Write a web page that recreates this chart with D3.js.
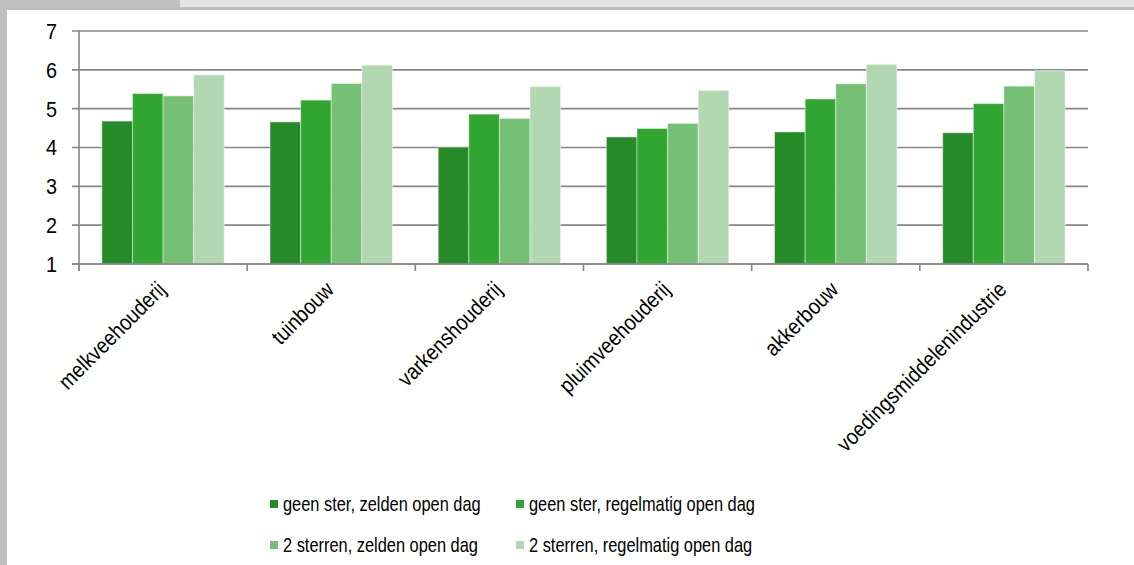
<!DOCTYPE html>
<html>
<head>
<meta charset="utf-8">
<script src="https://cdn.jsdelivr.net/npm/d3@7"></script>
<style>
  html, body { margin: 0; padding: 0; background: #fff; }
  svg { display: block; font-family: "Liberation Sans", Arial, sans-serif; }
</style>
</head>
<body>
<svg id="chart" width="1134" height="565"></svg>
<script>
// Sectors along the x axis
const sectors = ["melkveehouderij", "tuinbouw", "varkenshouderij", "pluimveehouderij", "akkerbouw", "voedingsmiddelenindustrie"];

// Series names (legend order)
const seriesNames = [
  "geen ster, zelden open dag",
  "geen ster, regelmatig open dag",
  "2 sterren, zelden open dag",
  "2 sterren, regelmatig open dag"
];

// Scores per series, one value per sector
const geenSterZelden     = [4.68, 4.66, 4.01, 4.27, 4.40, 4.38];
const geenSterRegelmatig = [5.39, 5.22, 4.86, 4.49, 5.25, 5.13];
const tweeSterrenZelden  = [5.33, 5.65, 4.75, 4.62, 5.64, 5.58];
const tweeSterrenRegelm  = [5.87, 6.12, 5.57, 5.47, 6.14, 5.98];

const seriesValues = [geenSterZelden, geenSterRegelmatig, tweeSterrenZelden, tweeSterrenRegelm];
const colors = ["#268a28", "#31a532", "#76c076", "#b1d8b1"];

// Y axis ticks
const yTicks = [1, 2, 3, 4, 5, 6, 7];

const svg = d3.select("#chart");

// Frame: grey top strip and left edge
svg.append("rect").attr("x", 0).attr("y", 0).attr("width", 1134).attr("height", 10).attr("fill", "#bfbfbf");
svg.append("rect").attr("x", 180).attr("y", 0).attr("width", 954).attr("height", 7).attr("fill", "#e5e5e5");
svg.append("rect").attr("x", 0).attr("y", 0).attr("width", 7).attr("height", 565).attr("fill", "#bfbfbf");

const plotLeft = 79, plotRight = 1088, plotTop = 31, plotBottom = 264;

const x0 = d3.scaleBand().domain(sectors).range([plotLeft, plotRight]).paddingInner(0).paddingOuter(0);
const groupPad = 0.136;
const x1 = d3.scaleBand().domain(d3.range(seriesNames.length))
  .range([x0.bandwidth() * groupPad, x0.bandwidth() * (1 - groupPad)]);
const y = d3.scaleLinear().domain([1, 7]).range([plotBottom, plotTop]);

// Horizontal grid lines with left ticks
const grid = svg.append("g").attr("class", "grid");
grid.selectAll("line").data(yTicks).join("line")
  .attr("x1", plotLeft - 7).attr("x2", plotRight)
  .attr("y1", d => y(d)).attr("y2", d => y(d))
  .attr("stroke", "#868686").attr("stroke-width", 1.6);

// Y tick labels
svg.append("g").selectAll("text").data(yTicks).join("text")
  .attr("transform", d => `translate(57,${y(d)}) scale(0.9,1)`)
  .attr("dy", "0.36em")
  .attr("text-anchor", "end")
  .attr("font-size", 22)
  .attr("fill", "#000")
  .text(d => d);

// Bars
const groups = svg.append("g").selectAll("g").data(sectors).join("g")
  .attr("transform", d => `translate(${x0(d)},0)`);
groups.selectAll("rect")
  .data((d, i) => seriesValues.map((vals, s) => ({ s, v: vals[i] })))
  .join("rect")
  .attr("x", d => x1(d.s))
  .attr("width", x1.bandwidth())
  .attr("y", d => y(d.v))
  .attr("height", d => y(1) - y(d.v))
  .attr("fill", d => colors[d.s])
  .attr("stroke", "rgba(255,255,255,0.45)")
  .attr("stroke-width", 1);

// Y axis line
svg.append("line")
  .attr("x1", plotLeft).attr("x2", plotLeft).attr("y1", plotTop).attr("y2", plotBottom + 7)
  .attr("stroke", "#868686").attr("stroke-width", 1.6);

// X axis with category boundary ticks
const xAxis = svg.append("g");
xAxis.append("line")
  .attr("x1", plotLeft - 7).attr("x2", plotRight).attr("y1", plotBottom).attr("y2", plotBottom)
  .attr("stroke", "#868686").attr("stroke-width", 1.6);
const boundaries = sectors.map(s => x0(s)).concat([x0(sectors[sectors.length - 1]) + x0.bandwidth()]);
xAxis.selectAll("line.tick").data(boundaries).join("line")
  .attr("class", "tick")
  .attr("x1", d => d).attr("x2", d => d)
  .attr("y1", plotBottom).attr("y2", plotBottom + 7)
  .attr("stroke", "#868686").attr("stroke-width", 1.6);

// Rotated category labels (condensed)
svg.append("g").selectAll("text").data(sectors).join("text")
  .attr("transform", d => `translate(${x0(d) + x0.bandwidth() / 2 + 4},${plotBottom + 27}) rotate(-45) scale(0.88,1)`)
  .attr("text-anchor", "end")
  .attr("font-size", 22)
  .attr("fill", "#000")
  .text(d => d);

// Legend, two columns
const legend = svg.append("g");
const legendItems = legend.selectAll("g").data(seriesNames).join("g")
  .attr("transform", (d, i) => `translate(${270 + (i % 2) * 246},${511 + Math.floor(i / 2) * 41})`);
legendItems.append("rect")
  .attr("x", 0).attr("y", -11).attr("width", 8).attr("height", 8)
  .attr("fill", (d, i) => colors[i]);
legendItems.append("text")
  .attr("transform", "translate(13,0) scale(0.8,1)")
  .attr("font-size", 20.5)
  .attr("fill", "#000")
  .text(d => d);
</script>
</body>
</html>
